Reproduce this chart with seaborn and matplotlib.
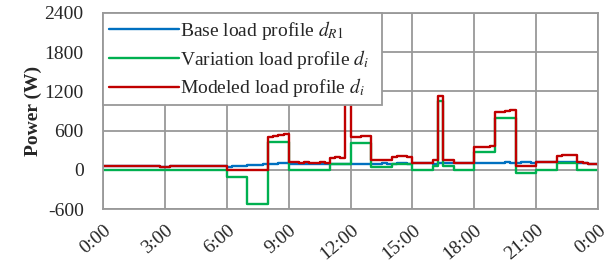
import matplotlib
matplotlib.use("Agg")
import matplotlib.pyplot as plt
import numpy as np
import pandas as pd
import seaborn as sns

# --- data (15-min samples, 0:00 .. 24:00) -------------------------------- #

hours = np.arange(97) / 4.0

base_load = [
    # 0:00 - 6:00
    55, 65, 60, 55, 62, 58, 55, 60, 57, 52, 55, 50,
    48, 52, 55, 60, 58, 52, 55, 62, 58, 55, 52, 60,
    # 6:00 - 8:00
    50, 55, 60, 62, 68, 72, 78, 85,
    # 8:00 - 12:00
    92, 95, 98, 100, 95, 90, 92, 95, 88, 92, 95, 90, 85, 88, 92, 90,
    # 12:00 - 15:00
    85, 88, 90, 92, 88, 95, 98, 92, 95, 100, 98, 95,
    # 15:00 - 18:00
    100, 105, 100, 98, 95, 100, 102, 98, 100, 105, 100, 98,
    # 18:00 - 21:00
    100, 105, 110, 108, 112, 110, 115, 112, 110, 118, 115, 112,
    # 21:00 - 24:00
    115, 118, 120, 115, 118, 122, 120, 115, 110, 105, 95, 85,
    80,
]

variation_load = [
    # 0:00 - 6:00
    0, 0, 0, 0, 0, 0, 0, 0, 0, 0, 0, 0,
    0, 0, 0, 0, 0, 0, 0, 0, 0, 0, 0, 0,
    # 6:00 - 8:00
    -115, -115, -115, -115, -520, -520, -520, -520,
    # 8:00 - 12:00
    425, 425, 425, 425, 0, 0, 0, 0, 0, 0, 0, 0, 95, 95, 95, 95,
    # 12:00 - 15:00
    418, 418, 418, 418, 50, 50, 50, 50, 90, 90, 90, 90,
    # 15:00 - 18:00
    0, 0, 0, 0, 60, 1060, 60, 60, 0, 0, 0, 0,
    # 18:00 - 21:00
    270, 270, 270, 270, 800, 800, 800, 800, -55, -55, -55, -55,
    # 21:00 - 24:00
    0, 0, 0, 0, 100, 100, 100, 100, 0, 0, 0, 0,
    0,
]

modeled_load = [
    # 0:00 - 6:00
    55, 65, 60, 55, 62, 58, 55, 60, 57, 52, 55, 50,
    48, 52, 55, 60, 58, 52, 55, 62, 58, 55, 52, 60,
    # 6:00 - 8:00
    0, 0, 0, 0, 0, 0, 0, 0,
    # 8:00 - 12:00
    510, 520, 530, 545, 120, 115, 110, 118, 112, 108, 115, 110,
    185, 190, 180, 1400,
    # 12:00 - 15:00
    505, 510, 515, 512, 150, 145, 155, 150, 200, 210, 205, 200,
    # 15:00 - 18:00
    110, 105, 100, 108, 150, 1130, 155, 150, 100, 105, 98, 102,
    # 18:00 - 21:00
    345, 350, 355, 370, 880, 890, 905, 920, 60, 55, 65, 60,
    # 21:00 - 24:00
    120, 125, 118, 122, 215, 230, 225, 220, 115, 105, 95, 85,
    75,
]

series_names = [
    r"Base load profile $d_{R1}$",
    r"Variation load profile $d_i$",
    r"Modeled load profile $d_i$",
]
series_colors = ["#0070C0", "#00B050", "#C00000"]

x_ticks = [0, 3, 6, 9, 12, 15, 18, 21, 24]
x_tick_labels = ["0:00", "3:00", "6:00", "9:00", "12:00",
                 "15:00", "18:00", "21:00", "0:00"]
y_ticks = [-600, 0, 600, 1200, 1800, 2400]

# --- plot ---------------------------------------------------------------- #

sns.set_theme(style="whitegrid")
plt.rcParams["font.family"] = ["Liberation Serif", "DejaVu Serif"]
plt.rcParams["mathtext.fontset"] = "stix"

df = pd.concat([
    pd.DataFrame({"hour": hours, "power": vals, "series": name})
    for name, vals in zip(series_names, [base_load, variation_load, modeled_load])
])

fig = plt.figure(figsize=(6.14, 2.64), dpi=100)
ax = fig.add_axes([0.168, 0.208, 0.806, 0.743])

sns.lineplot(
    data=df, x="hour", y="power", hue="series",
    hue_order=series_names, palette=series_colors,
    estimator=None, sort=False, drawstyle="steps-post",
    linewidth=1.7, ax=ax,
)

ax.set_xlim(0, 24)
ax.set_ylim(-600, 2400)
ax.set_xticks(x_ticks)
ax.set_xticklabels(x_tick_labels, rotation=40, ha="right",
                   rotation_mode="anchor", fontsize=14)
ax.set_yticks(y_ticks)
ax.set_yticklabels([str(v) for v in y_ticks], fontsize=14)
ax.tick_params(axis="x", length=0, pad=9)
ax.tick_params(axis="y", length=0, pad=14)
ax.set_xlabel("")
ax.set_ylabel("Power (W)", fontsize=14, fontweight="bold", labelpad=2)

ax.grid(True, color="#999999", linewidth=1.3)
for s in ax.spines.values():
    s.set_color("#999999")
    s.set_linewidth(1.3)

handles, labels = ax.get_legend_handles_labels()
leg = ax.legend(
    handles, labels, loc="upper left", fontsize=14,
    bbox_to_anchor=(0, 1, 0.564, 0), mode="expand",
    frameon=True, fancybox=False, framealpha=1, edgecolor="#999999",
    borderaxespad=0, handlelength=3.6, handletextpad=0.05,
    labelspacing=0.3, borderpad=0.3,
)
leg.get_frame().set_linewidth(1.3)

fig.savefig("out.png", dpi=100)
